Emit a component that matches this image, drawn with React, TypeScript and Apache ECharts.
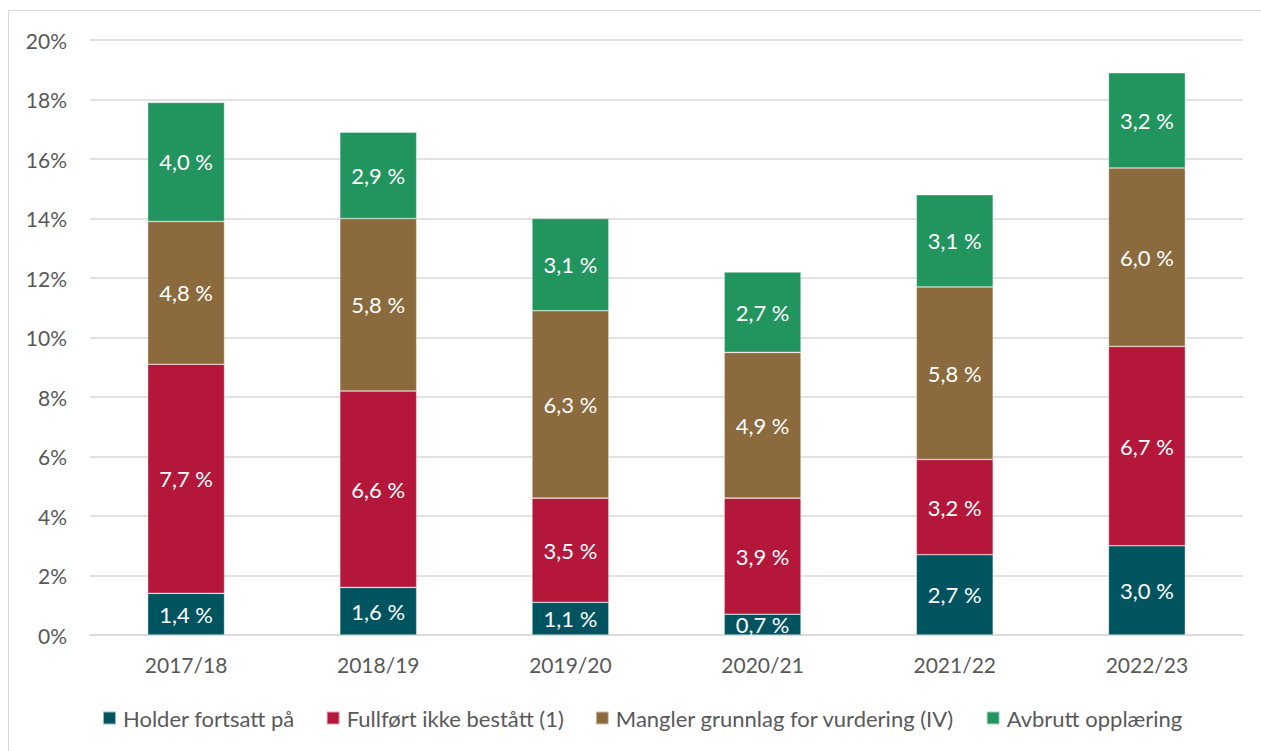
import React, { useEffect, useRef } from "react";
import * as echarts from "echarts";

const categories = ["2017/18", "2018/19", "2019/20", "2020/21", "2021/22", "2022/23"];
const seriesNames = [
  "Holder fortsatt på",
  "Fullført ikke bestått (1)",
  "Mangler grunnlag for vurdering (IV)",
  "Avbrutt opplæring",
];
const holder = [1.4, 1.6, 1.1, 0.7, 2.7, 3.0];
const fullfort = [7.7, 6.6, 3.5, 3.9, 3.2, 6.7];
const mangler = [4.8, 5.8, 6.3, 4.9, 5.8, 6.0];
const avbrutt = [4.0, 2.9, 3.1, 2.7, 3.1, 3.2];
const colors = ["#005460", "#B5173B", "#8B6B3D", "#22955F"];

const FONT = "Lato, 'Open Sans', sans-serif";

export default function App() {
  const ref = useRef<HTMLDivElement>(null);
  useEffect(() => {
    if (!ref.current) return;
    const chart = echarts.init(ref.current, undefined, { renderer: "svg" });
    const data = [holder, fullfort, mangler, avbrutt];
    chart.setOption({
      animation: false,
      textStyle: { fontFamily: FONT },
      graphic: [
        {
          type: "rect",
          shape: { x: 8.5, y: 10.5, width: 1260, height: 745 },
          style: { fill: "none", stroke: "#d9d9d9", lineWidth: 1 },
          silent: true,
        },
      ],
      grid: { left: 90, right: 18, top: 40, bottom: 116, containLabel: false },
      legend: {
        top: 702,
        left: 97,
        itemWidth: 13,
        itemHeight: 13,
        itemGap: 31,
        icon: "rect",
        textStyle: { fontFamily: FONT, fontSize: 22, color: "#595959", padding: [0, 0, 0, 2] },
        data: seriesNames,
      },
      xAxis: {
        type: "category",
        data: categories,
        axisLine: { lineStyle: { color: "#d9d9d9", width: 1.5 } },
        axisTick: { show: false },
        axisLabel: { fontFamily: FONT, fontSize: 21, color: "#595959", margin: 19 },
      },
      yAxis: {
        type: "value",
        min: 0,
        max: 20,
        interval: 2,
        axisLine: { show: false },
        axisTick: { show: false },
        splitLine: { lineStyle: { color: "#d9d9d9", width: 1.5 } },
        axisLabel: {
          fontFamily: FONT,
          fontSize: 21,
          color: "#595959",
          margin: 23,
          formatter: (v: number) => `${v}%`,
        },
      },
      series: seriesNames.map((name, i) => ({
        name,
        type: "bar",
        stack: "total",
        barWidth: "40%",
        data: data[i],
        itemStyle: { color: colors[i], borderColor: "rgba(255,255,255,0.6)", borderWidth: 0.6 },
        label: {
          show: true,
          position: "inside",
          color: "#ffffff",
          fontFamily: FONT,
          fontSize: 22,
          formatter: (p: any) => `${p.value.toFixed(1).replace(".", ",")} %`,
        },
      })),
    });
    return () => chart.dispose();
  }, []);
  return (
    <div
      ref={ref}
      style={{ position: "absolute", left: 0, top: 0, width: 1261, height: 751, background: "#fff" }}
    />
  );
}
